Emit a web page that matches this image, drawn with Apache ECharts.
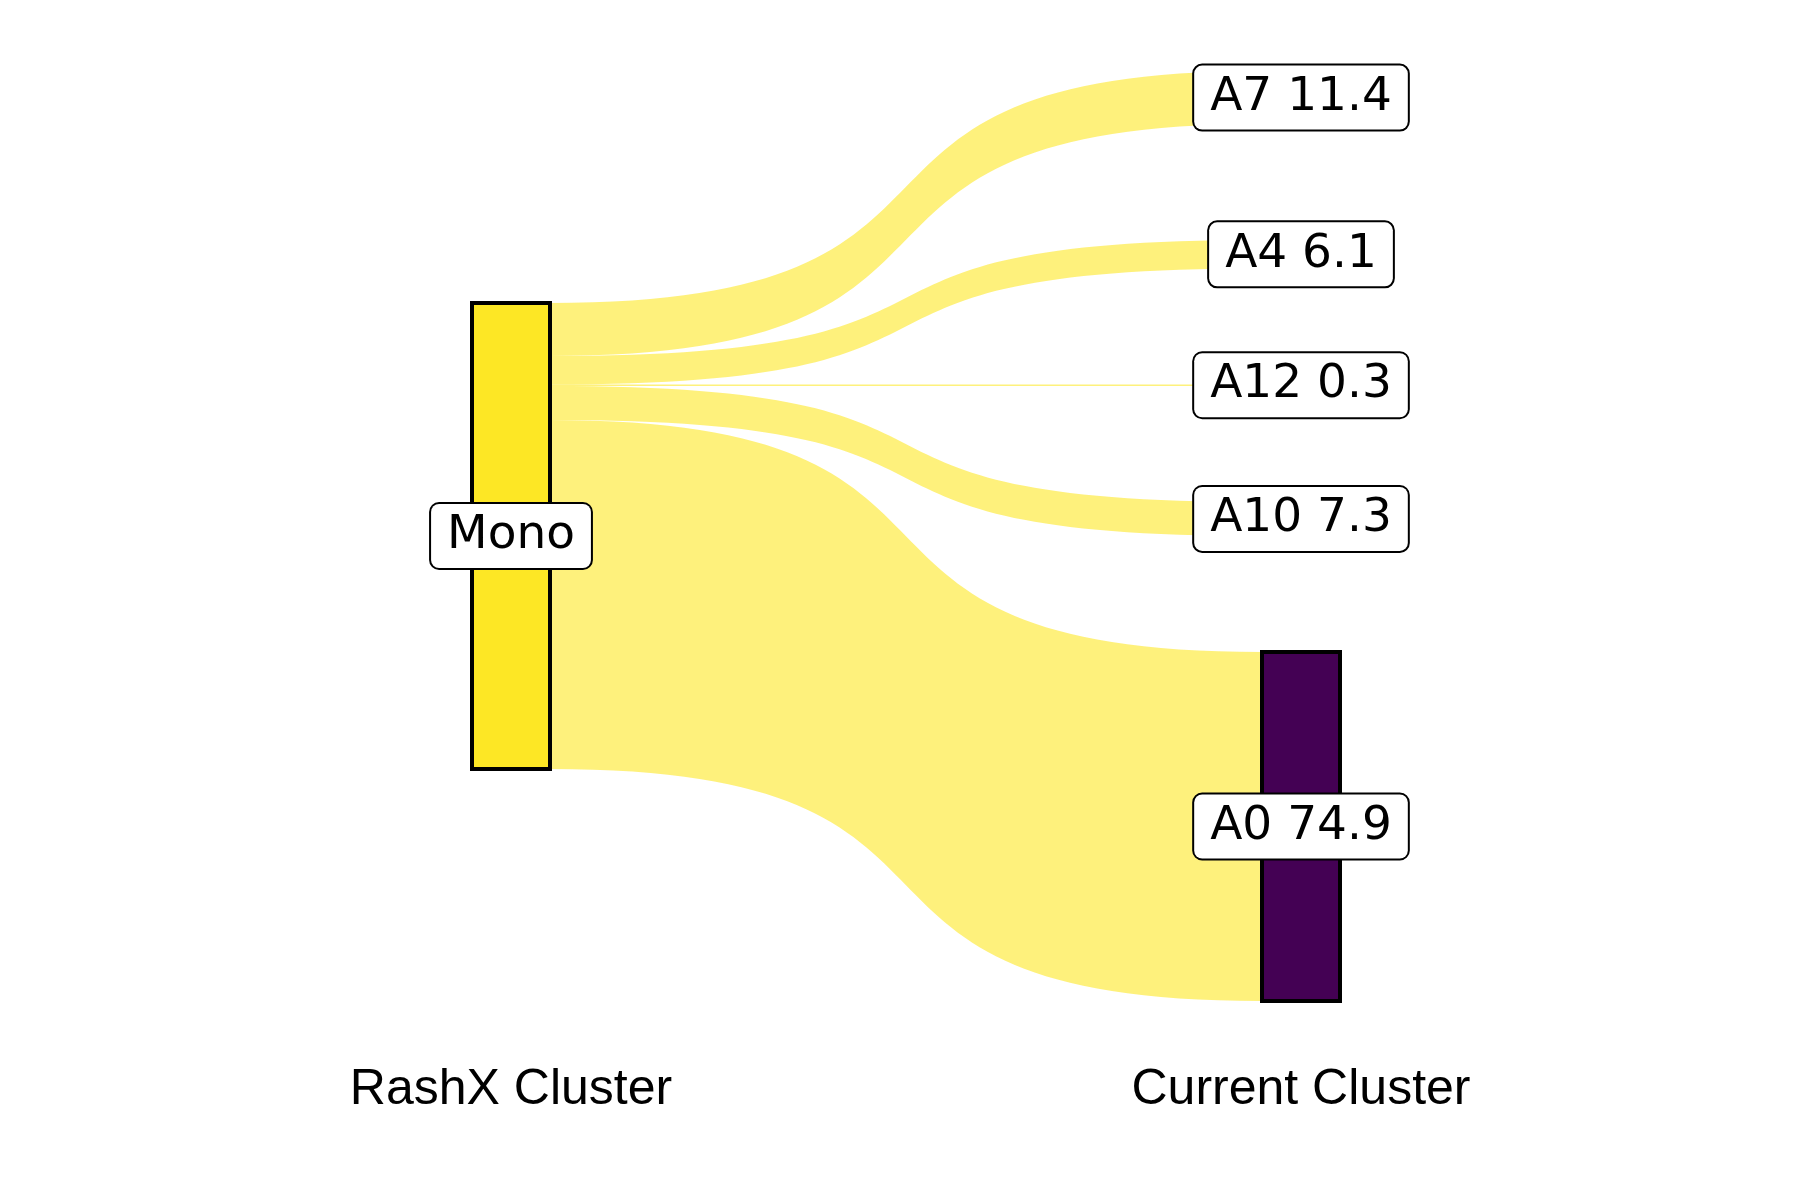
<!DOCTYPE html>
<html>
<head>
<meta charset="utf-8">
<script src="https://cdn.jsdelivr.net/npm/echarts@6/dist/echarts.min.js"></script>
<style>
  html, body { margin: 0; padding: 0; background: #ffffff; }
  #chart { width: 1800px; height: 1200px; }
</style>
</head>
<body>
<div id="chart"></div>
<script>
// ---- data ----
const sourceNode = 'Mono';
const targetNodes = ['A7', 'A4', 'A12', 'A10', 'A0'];
const flowValues = [11.4, 6.1, 0.3, 7.3, 74.9];
const axisTitles = ['RashX Cluster', 'Current Cluster'];
const nodeColors = {
  'Mono': '#FDE725', 'A7': '#7AD151', 'A4': '#22A884',
  'A12': '#2A788E', 'A10': '#414487', 'A0': '#440154'
};

// ---- layout settings ----
const L = 472, T = 71, W = 868, H = 930;
const NODE_W = 78, GAP = 116;

const chart = echarts.init(document.getElementById('chart'));

// source column is a single node: centre it vertically in the band
const sourceLocalY = ((targetNodes.length - 1) * GAP / 2) / H;

const nodes = [{
  name: sourceNode,
  localY: sourceLocalY,
  itemStyle: { color: nodeColors[sourceNode] }
}].concat(targetNodes.map(n => ({
  name: n,
  itemStyle: { color: nodeColors[n] }
})));

const links = targetNodes.map((t, i) => ({
  source: sourceNode, target: t, value: flowValues[i]
}));

const targetSet = new Set(targetNodes);

chart.setOption({
  animation: false,
  backgroundColor: '#ffffff',
  series: [{
    type: 'sankey',
    left: L, top: T, width: W, height: H,
    nodeWidth: NODE_W,
    nodeGap: GAP,
    layoutIterations: 0,
    draggable: false,
    emphasis: { disabled: true },
    data: nodes,
    links: links,
    itemStyle: { borderColor: '#000000', borderWidth: 4 },
    lineStyle: { color: 'source', opacity: 0.6, curveness: 0.68 },
    label: {
      show: true,
      position: 'inside',
      fontFamily: 'DejaVu Sans',
      fontSize: 47,
      color: '#000000',
      backgroundColor: '#ffffff',
      borderColor: '#000000',
      borderWidth: 2,
      borderRadius: 8,
      padding: [14, 16, 3, 16],
      formatter: function (p) {
        return targetSet.has(p.name) ? p.name + ' ' + p.value : p.name;
      }
    }
  }],
  graphic: axisTitles.map((t, i) => ({
    type: 'text',
    x: i === 0 ? L + NODE_W / 2 : L + W - NODE_W / 2,
    y: 1090,
    style: {
      text: t,
      fontFamily: 'Liberation Sans',
      fontSize: 50,
      fill: '#000000',
      align: 'center',
      verticalAlign: 'middle'
    }
  }))
});
</script>
</body>
</html>
